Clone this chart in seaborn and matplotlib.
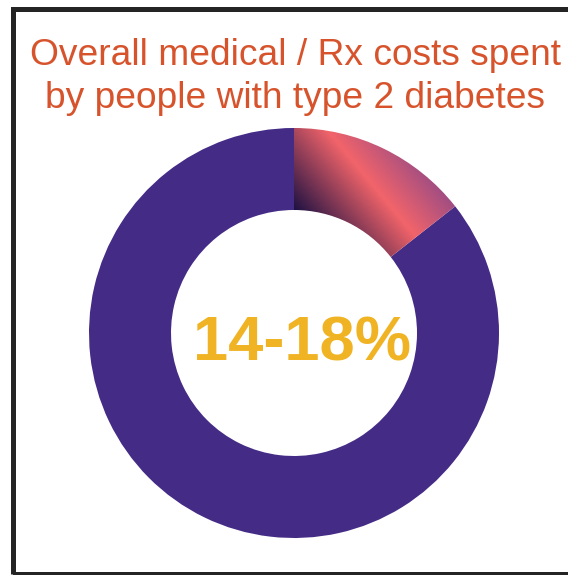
import numpy as np
import matplotlib
matplotlib.use("Agg")
import matplotlib.pyplot as plt
import seaborn as sns
from matplotlib.colors import LinearSegmentedColormap
from matplotlib.patches import Rectangle

# ---- data ----
title_lines = ["Overall medical / Rx costs spent", "by people with type 2 diabetes"]
segments = ["People with type 2 diabetes", "Everyone else"]
shares = [14.4, 85.6]
range_low, range_high = 14, 18
center_label = f"{range_low}-{range_high}%"

# ---- style ----
sns.set_theme(style="white")
plt.rcParams["font.family"] = ["Liberation Sans", "DejaVu Sans"]

PURPLE = "#432b86"
TITLE_COLOR = "#d7532c"
GOLD = "#f0b323"
FRAME = "#242424"

W, H = 568, 575
fig = plt.figure(figsize=(W / 100, H / 100), dpi=100)
fig.patch.set_facecolor("white")

# donut axes: centre and radius in pixels
cx, cy, r = 294, 333, 205
ax = fig.add_axes([(cx - r) / W, (H - cy - r) / H, 2 * r / W, 2 * r / H])

wedges, _ = ax.pie(
    shares,
    colors=["none", PURPLE],
    startangle=90,
    counterclock=False,
    radius=1,
    wedgeprops=dict(width=0.4, linewidth=0),
)

# diagonal gradient fill for the highlighted slice
n = 500
grid = np.linspace(-1, 1, n)
X, Y = np.meshgrid(grid, grid)
T = 0.77 * X + 0.64 * Y
U = np.interp(T, [0.38, 0.76, 1.02], [0.0, 0.5, 1.0])
slice_cmap = LinearSegmentedColormap.from_list(
    "slice", [(0.0, "#1a1042"), (0.5, "#f2646a"), (1.0, "#9c4c84")]
)
im = ax.imshow(U, extent=(-1, 1, -1, 1), origin="lower", cmap=slice_cmap,
               vmin=0, vmax=1, interpolation="bilinear",
               zorder=wedges[0].get_zorder())
im.set_clip_path(wedges[0])

ax.set_xlim(-1, 1)
ax.set_ylim(-1, 1)
ax.set_aspect("equal")
ax.axis("off")

# centre label
ax.text((302 - cx) / r, (cy - 360.5) / r, center_label, ha="center", va="baseline",
        fontsize=45.5, fontweight="bold", color=GOLD)

# title
fig.text(295 / W, 1 - 65 / H, title_lines[0], ha="center", va="baseline",
         fontsize=26.7, color=TITLE_COLOR)
fig.text(295 / W, 1 - 108 / H, title_lines[1], ha="center", va="baseline",
         fontsize=26.7, color=TITLE_COLOR)

# frame around the panel (open on the right edge)
frame = Rectangle((12.5 / W, (H - 573.5) / H), (W + 10 - 12.5) / W, (573.5 - 8.5) / H,
                  transform=fig.transFigure, fill=False, lw=3.6, ec=FRAME,
                  clip_on=False)
fig.add_artist(frame)

fig.savefig("out.png", dpi=100)
